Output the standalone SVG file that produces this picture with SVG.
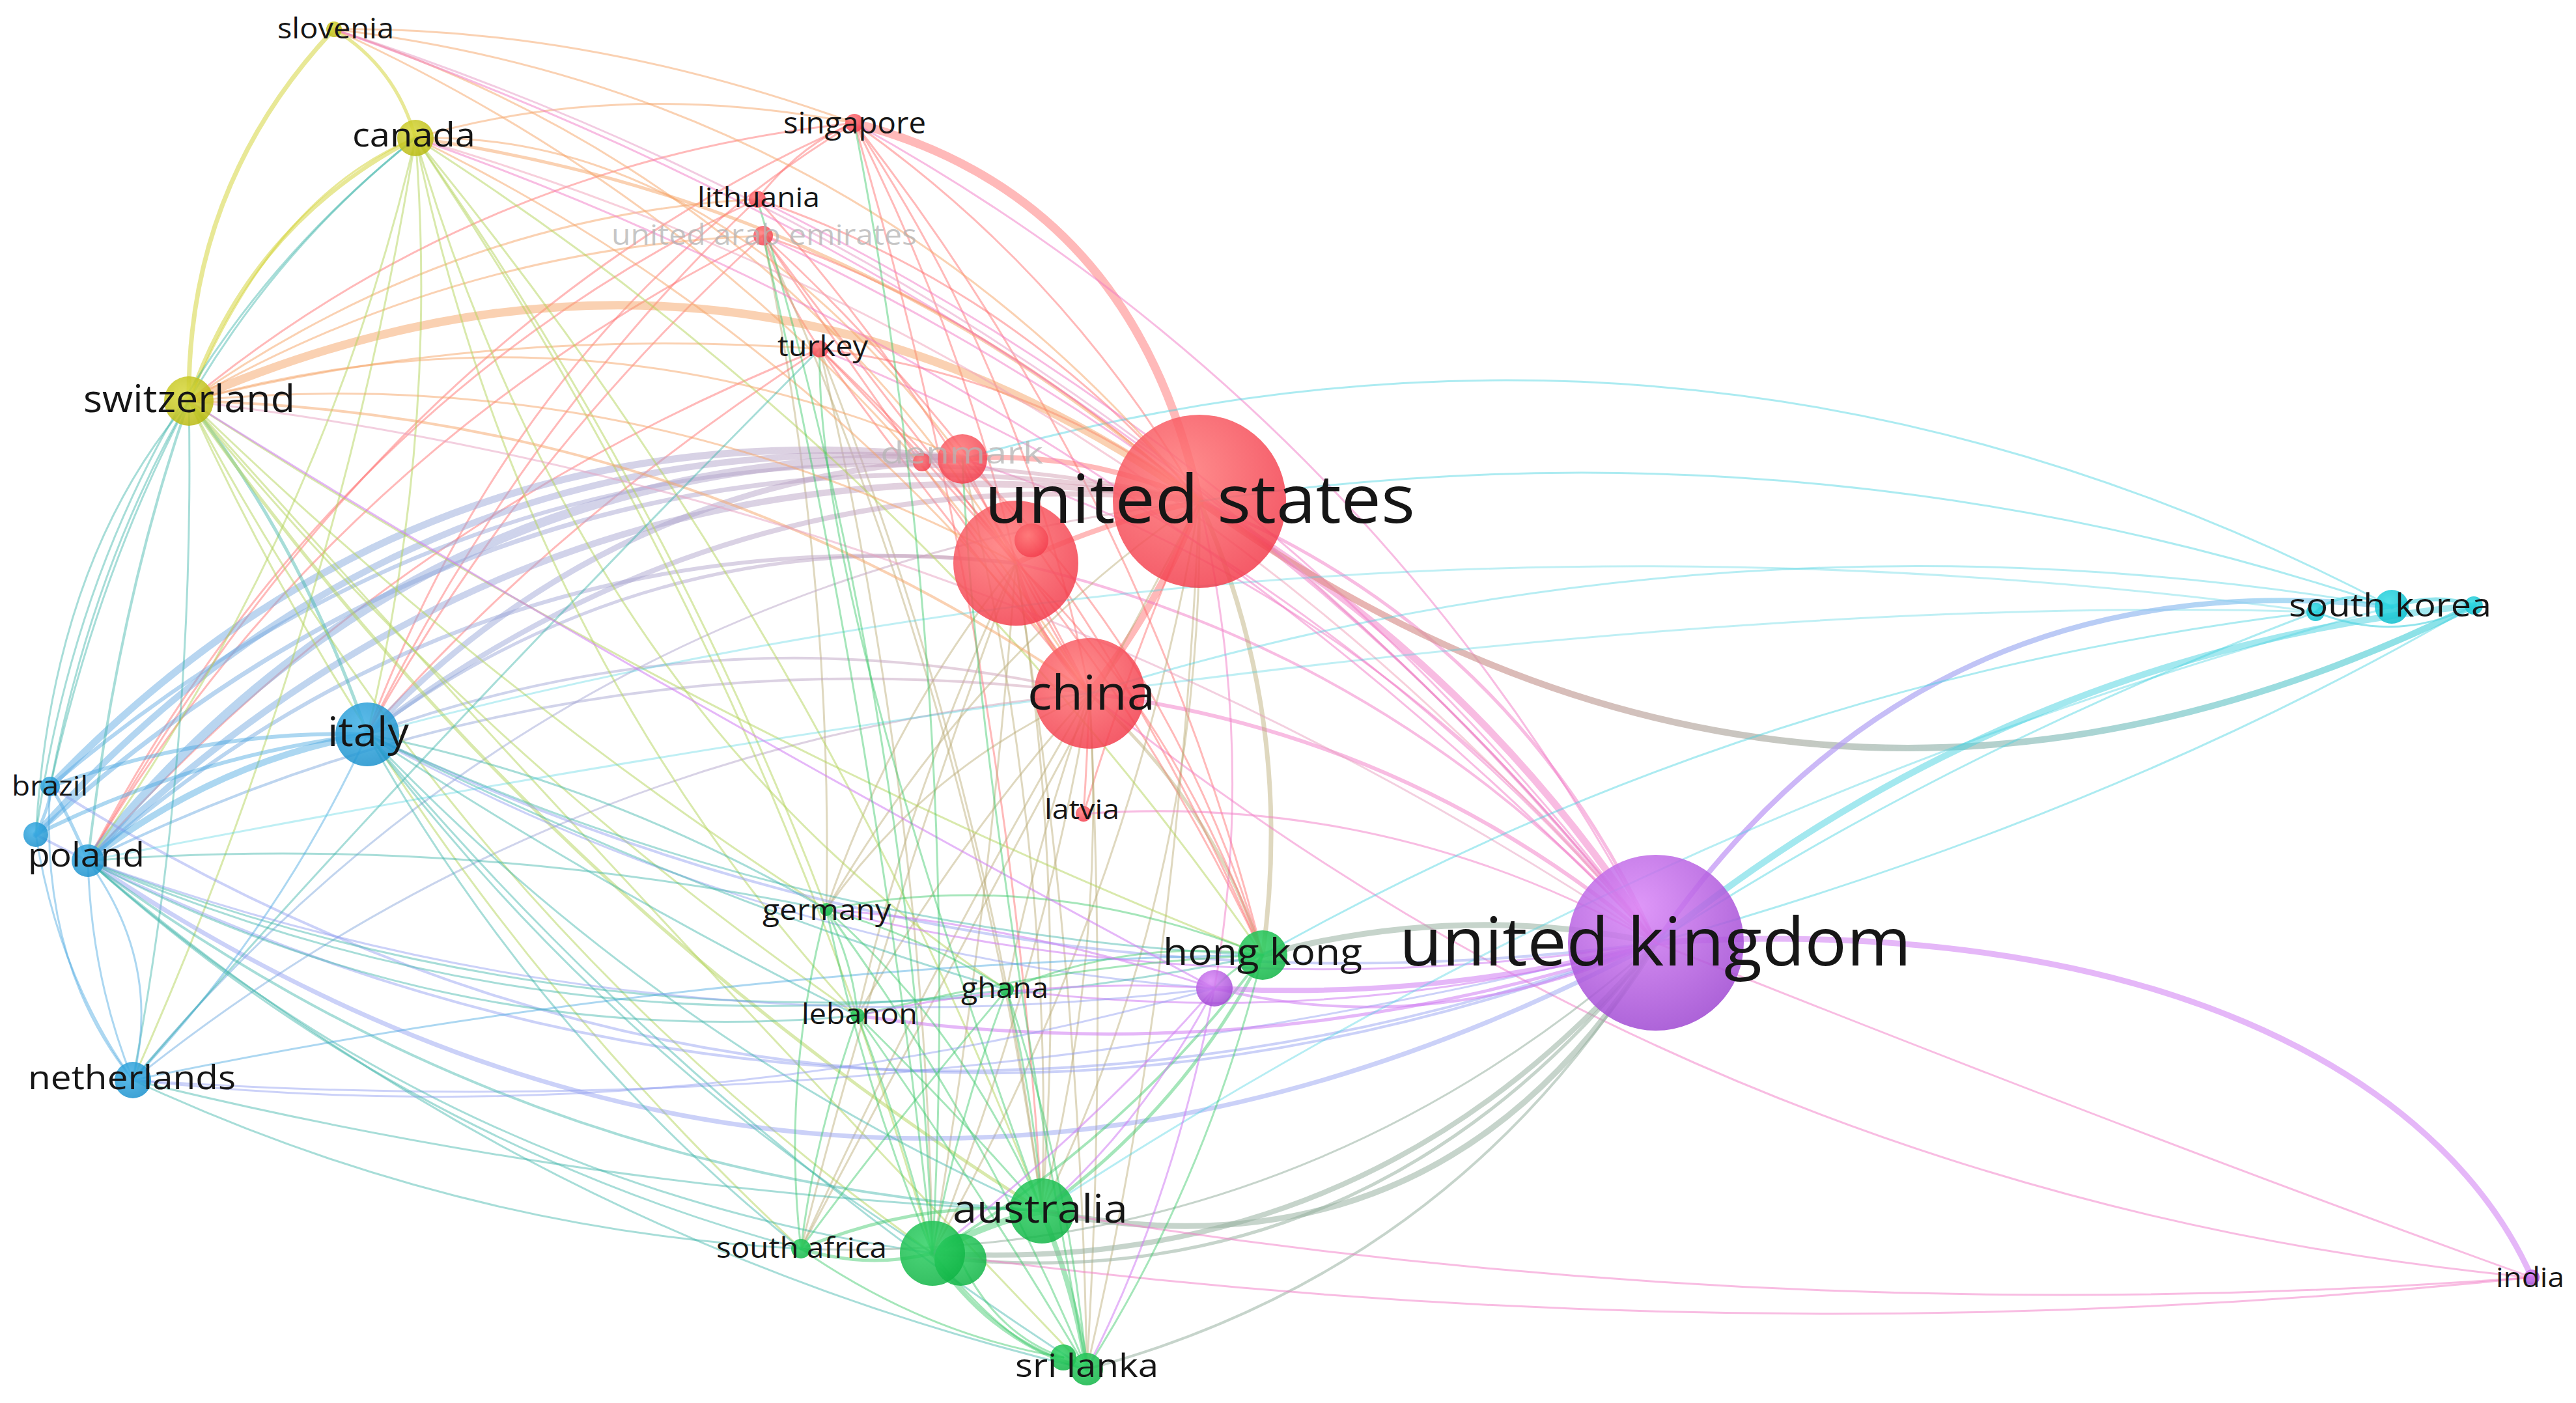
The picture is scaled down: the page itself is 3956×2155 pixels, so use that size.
<svg xmlns="http://www.w3.org/2000/svg" width="3956" height="2155" viewBox="0 0 3956 2155">
<defs>
<linearGradient id="gUSKR" gradientUnits="userSpaceOnUse" x1="1842" y1="0" x2="3799" y2="0">
<stop offset="0" stop-color="#f08a8a"/><stop offset="0.5" stop-color="#a8b4aa"/><stop offset="1" stop-color="#55d8e2"/>
</linearGradient>
<linearGradient id="gUKKR" gradientUnits="userSpaceOnUse" x1="2543" y1="0" x2="3673" y2="0">
<stop offset="0" stop-color="#c48af5"/><stop offset="1" stop-color="#7fd6ee"/>
</linearGradient>
<linearGradient id="gBR" gradientUnits="userSpaceOnUse" x1="60" y1="0" x2="1700" y2="0">
<stop offset="0" stop-color="#5aaee6"/><stop offset="0.45" stop-color="#a0a8d8"/><stop offset="1" stop-color="#d8a0b0"/>
</linearGradient>
<radialGradient id="fR" cx="0.4" cy="0.35" r="0.7"><stop offset="0" stop-color="#ff7a7a"/><stop offset="1" stop-color="#f23c4c"/></radialGradient>
<radialGradient id="fP" cx="0.4" cy="0.3" r="0.75"><stop offset="0" stop-color="#d985f7"/><stop offset="1" stop-color="#9c45d0"/></radialGradient>
<radialGradient id="fG" cx="0.4" cy="0.35" r="0.7"><stop offset="0" stop-color="#2fd064"/><stop offset="1" stop-color="#10b445"/></radialGradient>
<radialGradient id="fB" cx="0.4" cy="0.35" r="0.7"><stop offset="0" stop-color="#3fb0e6"/><stop offset="1" stop-color="#1a90cc"/></radialGradient>
<radialGradient id="fY" cx="0.4" cy="0.35" r="0.7"><stop offset="0" stop-color="#d8d83a"/><stop offset="1" stop-color="#b8b810"/></radialGradient>
<radialGradient id="fC" cx="0.4" cy="0.35" r="0.7"><stop offset="0" stop-color="#30dbe4"/><stop offset="1" stop-color="#0cbccc"/></radialGradient>
</defs>
<style>
.e{fill:none;stroke-linecap:round;stroke-width:3}
.r{stroke:#ff6464;stroke-opacity:.45}
.p{stroke:#cf7cf2;stroke-opacity:.55}
.pk{stroke:#f27ac6;stroke-opacity:.5}
.g{stroke:#38c866;stroke-opacity:.45}
.b{stroke:#48a6e0;stroke-opacity:.45}
.y{stroke:#d6d640;stroke-opacity:.55}
.o{stroke:#f5a466;stroke-opacity:.5}
.c{stroke:#48d2e0;stroke-opacity:.6}
.lv{stroke:#8c98f0;stroke-opacity:.45}
.t{stroke:#3bb4a8;stroke-opacity:.45}
.ol{stroke:#b8a870;stroke-opacity:.45}
.yg{stroke:#b4d45a;stroke-opacity:.5}
.gp{stroke:#98b0a0;stroke-opacity:.55}
.bl{stroke:url(#gBR);stroke-opacity:.5}
.n{fill-opacity:.85}
.red{fill:url(#fR)}
.pur{fill:url(#fP)}
.grn{fill:url(#fG)}
.blu{fill:url(#fB)}
.yel{fill:url(#fY)}
.cya{fill:url(#fC)}
text{font-family:"Open Sans","Noto Sans","Liberation Sans",sans-serif;fill:#161616}
.faint{fill:#b4b4b4;fill-opacity:.75}
</style>
<rect width="3956" height="2155" fill="#ffffff"/>
<g id="connectors">
<path class="e r" style="stroke-width:13" d="M1312 189 Q1740 300 1842 770"/>
<path class="e r" style="stroke-width:11" d="M1842 770 Q1780 930 1673 1065"/>
<path class="e r" style="stroke-width:8" d="M1842 770 Q1700 800 1560 865"/>
<path class="e r" style="stroke-width:8" d="M1842 770 Q1660 690 1478 705"/>
<path class="e r" style="stroke-width:6" d="M1560 865 Q1590 980 1673 1065"/>
<path class="e r" d="M1312 189 Q1580 591 1673 1065"/>
<path class="e r" d="M1312 189 Q1480 520 1560 865"/>
<path class="e r" d="M1312 189 Q1640 420 1842 770"/>
<path class="e r" d="M1312 189 Q1760 760 1939 1467"/>
<path class="e r" d="M1312 189 Q1550 1000 1600 1860"/>
<path class="e r" d="M1312 189 Q737 249 290 616"/>
<path class="e r" d="M1312 189 Q800 500 564 1128"/>
<path class="e r" d="M1312 189 Q600 500 135 1322"/>
<path class="e r" d="M1312 189 Q1230 220 1163 306"/>
<path class="e o" d="M1312 189 Q900 40 513 45"/>
<path class="e o" d="M1312 189 Q950 120 638 212"/>
<path class="e pk" d="M1312 189 Q2116 633 2543 1448"/>
<path class="e r" d="M1163 306 Q1560 440 1842 770"/>
<path class="e r" d="M1163 306 Q1450 620 1673 1065"/>
<path class="e o" d="M1163 306 Q700 330 290 616"/>
<path class="e r" d="M1163 306 Q800 650 564 1128"/>
<path class="e r" d="M1163 306 Q500 620 135 1322"/>
<path class="e pk" d="M1163 306 Q1990 711 2543 1448"/>
<path class="e r" d="M1172 362 Q1520 480 1842 770"/>
<path class="e r" d="M1172 362 Q1400 700 1673 1065"/>
<path class="e r" d="M1172 362 Q1350 600 1560 865"/>
<path class="e r" d="M1172 362 Q1200 450 1259 536"/>
<path class="e ol" d="M1172 362 Q1500 1100 1600 1860"/>
<path class="e r" d="M1172 362 Q1650 800 1939 1467"/>
<path class="e o" d="M1172 362 Q700 380 290 616"/>
<path class="e r" d="M1172 362 Q500 700 135 1322"/>
<path class="e r" d="M1172 362 Q800 700 564 1128"/>
<path class="e pk" d="M1172 362 Q2000 750 2543 1448"/>
<path class="e ol" d="M1172 362 Q1280 880 1269 1397"/>
<path class="e r" d="M1259 536 Q1600 580 1842 770"/>
<path class="e r" d="M1259 536 Q1450 800 1673 1065"/>
<path class="e r" d="M1259 536 Q1400 680 1560 865"/>
<path class="e ol" d="M1259 536 Q1520 1200 1600 1860"/>
<path class="e ol" d="M1259 536 Q1420 1230 1432 1925"/>
<path class="e r" d="M1259 536 Q1700 950 1939 1467"/>
<path class="e pk" d="M1259 536 Q2050 860 2543 1448"/>
<path class="e r" d="M1259 536 Q600 800 135 1322"/>
<path class="e r" d="M1259 536 Q850 800 564 1128"/>
<path class="e o" d="M1259 536 Q750 500 290 616"/>
<path class="e r" d="M1478 705 Q1570 890 1673 1065"/>
<path class="e pk" d="M1478 705 Q2100 900 2543 1448"/>
<path class="e ol" d="M1478 705 Q1620 1300 1600 1860"/>
<path class="e r" d="M1478 705 Q1800 1000 1939 1467"/>
<path class="e pk" style="stroke-width:11" d="M1842 770 Q2273 1025 2543 1448"/>
<path class="e pk" style="stroke-width:5" d="M1842 770 Q2328 969 2543 1448"/>
<path class="e pk" style="stroke-width:6" d="M1673 1065 Q2165 1126 2543 1448"/>
<path class="e pk" style="stroke-width:4" d="M1560 865 Q2140 1000 2543 1448"/>
<path class="e" style="stroke:url(#gUSKR);stroke-opacity:.7;stroke-width:10" d="M1842 770 Q2772 1437 3799 930"/>
<path class="e c" style="stroke-opacity:.45" d="M1478 705 Q2620 379 3673 932"/>
<path class="e ol" style="stroke-width:7" d="M1842 770 Q1990 1100 1939 1467"/>
<path class="e ol" d="M1842 770 Q1850 1350 1600 1860"/>
<path class="e ol" d="M1842 770 Q1740 1380 1432 1925"/>
<path class="e ol" d="M1842 770 Q1810 1500 1669 2103"/>
<path class="e ol" d="M1842 770 Q1500 1000 1269 1397"/>
<path class="e ol" d="M1842 770 Q1560 1300 1230 1918"/>
<path class="e r" d="M1842 770 Q1740 1000 1664 1250"/>
<path class="e pk" d="M1842 770 Q1930 1150 1865 1518"/>
<path class="e ol" d="M1673 1065 Q1700 1460 1600 1860"/>
<path class="e ol" d="M1673 1065 Q1600 1500 1432 1925"/>
<path class="e ol" d="M1673 1065 Q1700 1600 1669 2103"/>
<path class="e ol" style="stroke-width:5" d="M1673 1065 Q1860 1230 1939 1467"/>
<path class="e ol" d="M1673 1065 Q1420 1180 1269 1397"/>
<path class="e ol" d="M1673 1065 Q1590 1300 1546 1520"/>
<path class="e ol" d="M1673 1065 Q1470 1290 1317 1560"/>
<path class="e ol" d="M1673 1065 Q1430 1480 1230 1918"/>
<path class="e r" d="M1673 1065 Q1670 1160 1664 1250"/>
<path class="e pk" d="M1673 1065 Q2645 1845 3888 1962"/>
<path class="e ol" d="M1560 865 Q1640 1360 1600 1860"/>
<path class="e ol" d="M1560 865 Q1520 1400 1432 1925"/>
<path class="e r" d="M1560 865 Q1810 1100 1939 1467"/>
<path class="e ol" d="M1560 865 Q1370 1100 1269 1397"/>
<path class="e ol" d="M1560 865 Q1660 1500 1669 2103"/>
<path class="e ol" d="M1560 865 Q1400 1200 1317 1560"/>
<path class="e ol" d="M1560 865 Q1360 1400 1230 1918"/>
<path class="e bl" style="stroke-width:14" d="M135 1322 Q652 677 1478 705"/>
<path class="e bl" style="stroke-width:11" d="M77 1208 Q652 607 1478 705"/>
<path class="e bl" style="stroke-width:10" d="M55 1282 Q623 638 1478 705"/>
<path class="e bl" style="stroke-width:9" d="M564 1128 Q936 734 1478 705"/>
<path class="e bl" style="stroke-width:10" d="M135 1322 Q851 619 1842 770"/>
<path class="e bl" style="stroke-width:7" d="M55 1282 Q821 579 1842 770"/>
<path class="e bl" style="stroke-width:6" d="M77 1208 Q850 548 1842 770"/>
<path class="e bl" style="stroke-width:8" d="M564 1128 Q1131 693 1842 770"/>
<path class="e bl" style="stroke-width:5" d="M564 1128 Q1009 798 1560 865"/>
<path class="e bl" style="stroke-width:4" d="M564 1128 Q1110 931 1673 1065"/>
<path class="e bl" style="stroke-width:4" d="M135 1322 Q865 963 1673 1065"/>
<path class="e bl" style="stroke-width:6" d="M135 1322 Q747 780 1560 865"/>
<path class="e bl" d="M204 1659 Q845 887 1842 770"/>
<path class="e bl" d="M204 1659 Q850 1142 1673 1065"/>
<path class="e o" style="stroke-width:13" d="M290 616 Q1109 258 1842 770"/>
<path class="e y" style="stroke-width:7" d="M290 616 Q287 285 513 45"/>
<path class="e y" style="stroke-width:6" d="M290 616 Q383 344 638 212"/>
<path class="e y" style="stroke-width:5" d="M638 212 Q608 103 513 45"/>
<path class="e y" d="M290 616 Q420 300 638 212"/>
<path class="e o" d="M513 45 Q1322 141 1842 770"/>
<path class="e o" d="M513 45 Q1184 267 1560 865"/>
<path class="e o" d="M513 45 Q1246 381 1673 1065"/>
<path class="e y" d="M513 45 Q1738 441 2543 1448" style="stroke:#e8a0c8"/>
<path class="e o" style="stroke-width:5" d="M638 212 Q1324 310 1842 770"/>
<path class="e o" d="M638 212 Q1257 514 1673 1065"/>
<path class="e o" d="M638 212 Q1100 200 1478 705"/>
<path class="e yg" d="M638 212 Q674 676 564 1128"/>
<path class="e yg" d="M638 212 Q497 817 135 1322"/>
<path class="e yg" d="M638 212 Q1251 959 1600 1860"/>
<path class="e yg" d="M638 212 Q1172 1004 1432 1925"/>
<path class="e yg" d="M638 212 Q1414 709 1939 1467"/>
<path class="e yg" d="M638 212 Q1030 770 1269 1397"/>
<path class="e yg" d="M638 212 Q520 950 204 1659"/>
<path class="e yg" d="M638 212 Q900 1100 1546 1520"/>
<path class="e yg" d="M638 212 Q800 1000 1317 1560"/>
<path class="e pk" d="M638 212 Q1775 544 2543 1448" style="stroke:#f0a0b8"/>
<path class="e t" style="stroke-width:5" d="M290 616 Q460 830 564 1128"/>
<path class="e t" style="stroke-width:4" d="M290 616 Q180 930 135 1322"/>
<path class="e t" d="M290 616 Q150 880 77 1208"/>
<path class="e t" d="M290 616 Q300 1150 204 1659"/>
<path class="e t" d="M55 1282 Q80 860 290 616"/>
<path class="e t" d="M77 1208 Q200 560 638 212"/>
<path class="e t" d="M55 1282 Q150 600 638 212"/>
<path class="e o" style="stroke-width:4" d="M290 616 Q1048 633 1673 1065"/>
<path class="e o" d="M290 616 Q962 550 1560 865"/>
<path class="e o" d="M290 616 Q900 446 1478 705"/>
<path class="e yg" style="stroke-width:5" d="M290 616 Q821 1369 1600 1860"/>
<path class="e yg" d="M290 616 Q704 1407 1432 1925"/>
<path class="e yg" d="M290 616 Q1071 1123 1939 1467"/>
<path class="e pk" d="M290 616 Q1516 762 2543 1448" style="stroke:#e8a0c0"/>
<path class="e yg" d="M290 616 Q741 1055 1269 1397"/>
<path class="e yg" d="M290 616 Q720 1150 1317 1560"/>
<path class="e yg" d="M290 616 Q630 1361 1230 1918"/>
<path class="e yg" d="M290 616 Q900 1300 1669 2103"/>
<path class="e lv" style="stroke-width:4" d="M564 1128 Q1506 1585 2543 1448"/>
<path class="e lv" style="stroke-width:7" d="M135 1322 Q1301 2107 2543 1448"/>
<path class="e lv" style="stroke-width:4" d="M77 1208 Q1250 1945 2543 1448"/>
<path class="e lv" style="stroke-width:4" d="M55 1282 Q1262 1912 2543 1448"/>
<path class="e lv" d="M204 1659 Q1391 1741 2543 1448"/>
<path class="e t" d="M564 1128 Q1218 1436 1939 1467"/>
<path class="e lv" d="M564 1128 Q1190 1470 1865 1518"/>
<path class="e t" d="M135 1322 Q1015 1666 1939 1467"/>
<path class="e t" style="stroke-width:4" d="M135 1322 Q787 1811 1600 1860"/>
<path class="e t" d="M135 1322 Q694 1819 1432 1925"/>
<path class="e t" d="M135 1322 Q700 1280 1269 1397"/>
<path class="e t" d="M135 1322 Q690 1618 1317 1560"/>
<path class="e t" d="M135 1322 Q820 1620 1546 1520"/>
<path class="e t" d="M135 1322 Q808 1897 1669 2103"/>
<path class="e t" d="M564 1128 Q1009 1598 1600 1860"/>
<path class="e t" d="M564 1128 Q930 1610 1432 1925"/>
<path class="e t" d="M564 1128 Q930 1200 1269 1397"/>
<path class="e t" d="M564 1128 Q1070 1380 1546 1520"/>
<path class="e t" d="M564 1128 Q950 1380 1317 1560"/>
<path class="e t" d="M564 1128 Q830 1600 1230 1918"/>
<path class="e t" d="M564 1128 Q1040 1700 1669 2103"/>
<path class="e b" style="stroke-width:10" d="M564 1128 Q330 1170 135 1322"/>
<path class="e b" style="stroke-width:6" d="M564 1128 Q320 1120 77 1208"/>
<path class="e b" style="stroke-width:6" d="M564 1128 Q300 1160 55 1282"/>
<path class="e b" d="M564 1128 Q430 1420 204 1659"/>
<path class="e b" style="stroke-width:5" d="M135 1322 Q100 1240 77 1208"/>
<path class="e b" style="stroke-width:5" d="M55 1282 Q80 1230 77 1208"/>
<path class="e b" d="M135 1322 Q140 1500 204 1659"/>
<path class="e b" d="M135 1322 Q250 1480 204 1659"/>
<path class="e b" d="M77 1208 Q60 1480 204 1659"/>
<path class="e b" d="M55 1282 Q90 1500 204 1659"/>
<path class="e b" d="M204 1659 Q1060 1480 1939 1467"/>
<path class="e t" d="M204 1659 Q900 1830 1600 1860"/>
<path class="e t" d="M204 1659 Q700 1890 1230 1918"/>
<path class="e t" d="M204 1659 Q600 1200 1259 536"/>
<path class="e c" style="stroke-opacity:.35" d="M3556 940 Q2041 735 564 1128"/>
<path class="e c" style="stroke-opacity:.35" d="M3556 940 Q2300 900 135 1322"/>
<path class="e g" style="stroke-width:10" d="M1600 1860 Q1510 1880 1432 1925"/>
<path class="e g" style="stroke-width:8" d="M1600 1860 Q1650 1980 1669 2103"/>
<path class="e g" style="stroke-width:6" d="M1432 1925 Q1520 2060 1669 2103"/>
<path class="e g" d="M1475 1935 Q1530 2050 1633 2085"/>
<path class="e g" d="M1432 1925 Q1560 2080 1633 2085"/>
<path class="e g" style="stroke-width:5" d="M1600 1860 Q1820 1700 1939 1467"/>
<path class="e g" style="stroke-width:4" d="M1432 1925 Q1740 1740 1939 1467"/>
<path class="e gp" style="stroke-width:9" d="M1939 1467 Q2239 1385 2543 1448"/>
<path class="e p" style="stroke-width:8" d="M1865 1518 Q2210 1537 2543 1448"/>
<path class="e p" style="stroke-width:4" d="M1865 1518 Q2200 1600 2543 1448"/>
<path class="e gp" style="stroke-width:9" d="M2543 1448 Q2215 1984 1600 1860"/>
<path class="e gp" style="stroke-width:8" d="M2543 1448 Q2107 1965 1432 1925"/>
<path class="e gp" style="stroke-width:5" d="M2543 1448 Q2120 1990 1475 1935"/>
<path class="e gp" style="stroke-width:4" d="M2543 1448 Q2237 1951 1669 2103"/>
<path class="e gp" d="M2543 1448 Q1981 1946 1230 1918"/>
<path class="e p" d="M2543 1448 Q1901 1550 1269 1397"/>
<path class="e p" style="stroke-width:5" d="M2543 1448 Q1943 1651 1317 1560"/>
<path class="e p" d="M2543 1448 Q2052 1584 1546 1520"/>
<path class="e pk" d="M2543 1448 Q2134 1217 1664 1250"/>
<path class="e" style="stroke:url(#gUKKR);stroke-opacity:.7;stroke-width:8" d="M2543 1448 Q2953 851 3673 932"/>
<path class="e c" style="stroke-width:10;stroke-opacity:.5" d="M2543 1448 Q3093 1001 3799 930"/>
<path class="e c" style="stroke-opacity:.45" d="M2543 1448 Q3000 1150 3556 940"/>
<path class="e c" style="stroke-opacity:.45" d="M3799 930 Q3250 1250 2543 1448"/>
<path class="e p" style="stroke-width:9" d="M2543 1448 C3300 1400 3750 1650 3888 1962"/>
<path class="e pk" d="M2543 1448 Q3300 1750 3888 1962"/>
<path class="e pk" d="M3888 1962 Q2738 2048 1600 1860"/>
<path class="e pk" d="M3888 1962 Q2658 2090 1432 1925"/>
<path class="e c" style="stroke-opacity:.45" d="M3556 940 Q2695 1042 1939 1467"/>
<path class="e c" style="stroke-opacity:.45" d="M3673 932 Q2777 631 1842 770"/>
<path class="e c" style="stroke-opacity:.4" d="M3673 932 Q2657 759 1673 1065"/>
<path class="e c" style="stroke-opacity:.4" d="M3673 932 Q2563 1230 1600 1860"/>
<path class="e c" style="stroke-width:4" d="M3556 940 Q3600 900 3673 932"/>
<path class="e c" style="stroke-width:6" d="M3673 932 Q3740 910 3799 930"/>
<path class="e c" d="M3556 940 Q3680 990 3799 930"/>
<path class="e g" d="M1269 1397 Q1480 1580 1600 1860"/>
<path class="e g" d="M1269 1397 Q1330 1680 1432 1925"/>
<path class="e g" d="M1269 1397 Q1520 1740 1669 2103"/>
<path class="e g" d="M1269 1397 Q1600 1330 1939 1467"/>
<path class="e g" d="M1269 1397 Q1200 1660 1230 1918"/>
<path class="e g" d="M1269 1397 Q1310 1480 1317 1560"/>
<path class="e g" d="M1269 1397 Q1420 1440 1546 1520"/>
<path class="e g" d="M1546 1520 Q1590 1700 1600 1860"/>
<path class="e g" d="M1546 1520 Q1470 1720 1432 1925"/>
<path class="e g" d="M1546 1520 Q1640 1800 1669 2103"/>
<path class="e g" d="M1546 1520 Q1740 1440 1939 1467"/>
<path class="e g" d="M1546 1520 Q1360 1740 1230 1918"/>
<path class="e g" d="M1317 1560 Q1480 1720 1600 1860"/>
<path class="e g" d="M1317 1560 Q1390 1750 1432 1925"/>
<path class="e g" d="M1317 1560 Q1520 1850 1669 2103"/>
<path class="e g" d="M1317 1560 Q1630 1480 1939 1467"/>
<path class="e g" d="M1317 1560 Q1250 1750 1230 1918"/>
<path class="e g" style="stroke-width:5" d="M1230 1918 Q1420 1840 1600 1860"/>
<path class="e g" style="stroke-width:5" d="M1230 1918 Q1330 1950 1432 1925"/>
<path class="e g" d="M1230 1918 Q1420 2050 1633 2085"/>
<path class="e g" d="M1939 1467 Q1850 1820 1669 2103"/>
<path class="e g" d="M1939 1467 Q1900 1480 1865 1518"/>
<path class="e p" d="M1865 1518 Q1760 1720 1600 1860"/>
<path class="e p" d="M1865 1518 Q1680 1730 1432 1925"/>
<path class="e p" d="M1865 1518 Q1800 1850 1669 2103"/>
<path class="e p" d="M1865 1518 Q1590 1500 1317 1560"/>
<path class="e p" d="M1865 1518 Q1570 1420 1269 1397"/>
<path class="e lv" d="M1865 1518 Q976 1628 135 1322"/>
<path class="e lv" d="M1865 1518 Q1030 1750 204 1659"/>
<path class="e p" d="M1865 1518 Q900 1000 290 616"/>
<path class="e g" d="M1432 1925 Q1480 1050 1312 189"/>
<path class="e g" d="M1432 1925 Q1350 1150 1172 362"/>
<path class="e g" d="M1432 1925 Q1400 1100 1163 306"/>
<path class="e t" d="M1230 1918 Q610 1751 135 1322"/>
<path class="e g" d="M1600 1860 Q1250 900 1259 536"/>
<path class="e g" d="M1669 2103 Q1500 1200 1478 705"/>
<path class="e pk" d="M2543 1448 Q1738 601 638 212"/>
<path class="e pk" d="M2543 1448 Q1800 500 513 45"/>
</g>
<g id="node-unlabelled-red-large"><circle class="n red" cx="1560" cy="865" r="96"/></g>
<g id="node-red-small"><circle class="n red" cx="1584" cy="830" r="26"/></g>
<g id="node-red-dot"><circle class="n red" cx="1416" cy="710" r="14"/></g>
<g id="node-denmark"><circle class="n red" cx="1478" cy="705" r="38"/><text class="faint" x="1352" y="712" font-size="46" textLength="250" lengthAdjust="spacingAndGlyphs">denmark</text></g>
<g id="node-united-states"><circle class="n red" cx="1842" cy="770" r="133"/><text x="1512" y="803" font-size="102" textLength="661" lengthAdjust="spacingAndGlyphs">united states</text></g>
<g id="node-china"><circle class="n red" cx="1673" cy="1065" r="85"/><text x="1578" y="1090" font-size="74" textLength="196" lengthAdjust="spacingAndGlyphs">china</text></g>
<g id="node-singapore"><circle class="n red" cx="1312" cy="189" r="14"/><text x="1203" y="205" font-size="46" textLength="219" lengthAdjust="spacingAndGlyphs">singapore</text></g>
<g id="node-lithuania"><circle class="n red" cx="1163" cy="306" r="13"/><text x="1071" y="318" font-size="42" textLength="188" lengthAdjust="spacingAndGlyphs">lithuania</text></g>
<g id="node-united-arab-emirates"><circle class="n red" cx="1172" cy="362" r="15"/><text class="faint" x="939" y="376" font-size="44" textLength="469" lengthAdjust="spacingAndGlyphs">united arab emirates</text></g>
<g id="node-turkey"><circle class="n red" cx="1259" cy="536" r="13"/><text x="1194" y="547" font-size="44" textLength="139" lengthAdjust="spacingAndGlyphs">turkey</text></g>
<g id="node-latvia"><circle class="n red" cx="1664" cy="1250" r="12"/><text x="1604" y="1258" font-size="42" textLength="115" lengthAdjust="spacingAndGlyphs">latvia</text></g>
<g id="node-slovenia"><circle class="n yel" cx="513" cy="45" r="12"/><text x="426" y="59" font-size="44" textLength="179" lengthAdjust="spacingAndGlyphs">slovenia</text></g>
<g id="node-canada"><circle class="n yel" cx="638" cy="212" r="28"/><text x="541" y="225" font-size="52" textLength="189" lengthAdjust="spacingAndGlyphs">canada</text></g>
<g id="node-switzerland"><circle class="n yel" cx="290" cy="616" r="38"/><text x="128" y="633" font-size="58" textLength="325" lengthAdjust="spacingAndGlyphs">switzerland</text></g>
<g id="node-blue-small"><circle class="n blu" cx="55" cy="1282" r="19"/></g>
<g id="node-brazil"><circle class="n blu" cx="77" cy="1208" r="15"/><text x="18" y="1222" font-size="42" textLength="117" lengthAdjust="spacingAndGlyphs">brazil</text></g>
<g id="node-poland"><circle class="n blu" cx="135" cy="1322" r="25"/><text x="43" y="1331" font-size="52" textLength="179" lengthAdjust="spacingAndGlyphs">poland</text></g>
<g id="node-netherlands"><circle class="n blu" cx="204" cy="1659" r="28"/><text x="43" y="1673" font-size="52" textLength="319" lengthAdjust="spacingAndGlyphs">netherlands</text></g>
<g id="node-italy"><circle class="n blu" cx="564" cy="1128" r="49"/><text x="503" y="1146" font-size="62" textLength="125" lengthAdjust="spacingAndGlyphs">italy</text></g>
<g id="node-germany"><circle class="n grn" cx="1269" cy="1397" r="10"/><text x="1171" y="1413" font-size="44" textLength="197" lengthAdjust="spacingAndGlyphs">germany</text></g>
<g id="node-ghana"><circle class="n grn" cx="1546" cy="1520" r="11"/><text x="1476" y="1533" font-size="43" textLength="134" lengthAdjust="spacingAndGlyphs">ghana</text></g>
<g id="node-lebanon"><circle class="n grn" cx="1317" cy="1560" r="11"/><text x="1231" y="1573" font-size="44" textLength="178" lengthAdjust="spacingAndGlyphs">lebanon</text></g>
<g id="node-south-africa"><circle class="n grn" cx="1230" cy="1918" r="15"/><text x="1100" y="1932" font-size="44" textLength="262" lengthAdjust="spacingAndGlyphs">south africa</text></g>
<g id="node-green-2"><circle class="n grn" cx="1475" cy="1935" r="40"/></g>
<g id="node-green-big"><circle class="n grn" cx="1432" cy="1925" r="50"/></g>
<g id="node-australia"><circle class="n grn" cx="1600" cy="1860" r="50"/><text x="1463" y="1878" font-size="60" textLength="269" lengthAdjust="spacingAndGlyphs">australia</text></g>
<g id="node-sri-lanka-2"><circle class="n grn" cx="1633" cy="2085" r="20"/></g>
<g id="node-sri-lanka"><circle class="n grn" cx="1669" cy="2103" r="25"/><text x="1559" y="2115" font-size="50" textLength="220" lengthAdjust="spacingAndGlyphs">sri lanka</text></g>
<g id="node-purple-small"><circle class="n pur" cx="1865" cy="1518" r="28"/></g>
<g id="node-hong-kong"><circle class="n grn" cx="1939" cy="1467" r="38"/><text x="1786" y="1482" font-size="56" textLength="306" lengthAdjust="spacingAndGlyphs">hong kong</text></g>
<g id="node-united-kingdom"><circle class="n pur" cx="2543" cy="1448" r="135"/><text x="2149" y="1483" font-size="102" textLength="786" lengthAdjust="spacingAndGlyphs">united kingdom</text></g>
<g id="node-korea-left"><circle class="n cya" cx="3556" cy="940" r="14"/></g>
<g id="node-korea-right"><circle class="n cya" cx="3799" cy="930" r="14"/></g>
<g id="node-south-korea"><circle class="n cya" cx="3673" cy="932" r="26"/><text x="3515" y="947" font-size="50" textLength="311" lengthAdjust="spacingAndGlyphs">south korea</text></g>
<g id="node-india"><circle class="n pur" cx="3888" cy="1962" r="12"/><text x="3833" y="1977" font-size="42" textLength="105" lengthAdjust="spacingAndGlyphs">india</text></g>
</svg>
